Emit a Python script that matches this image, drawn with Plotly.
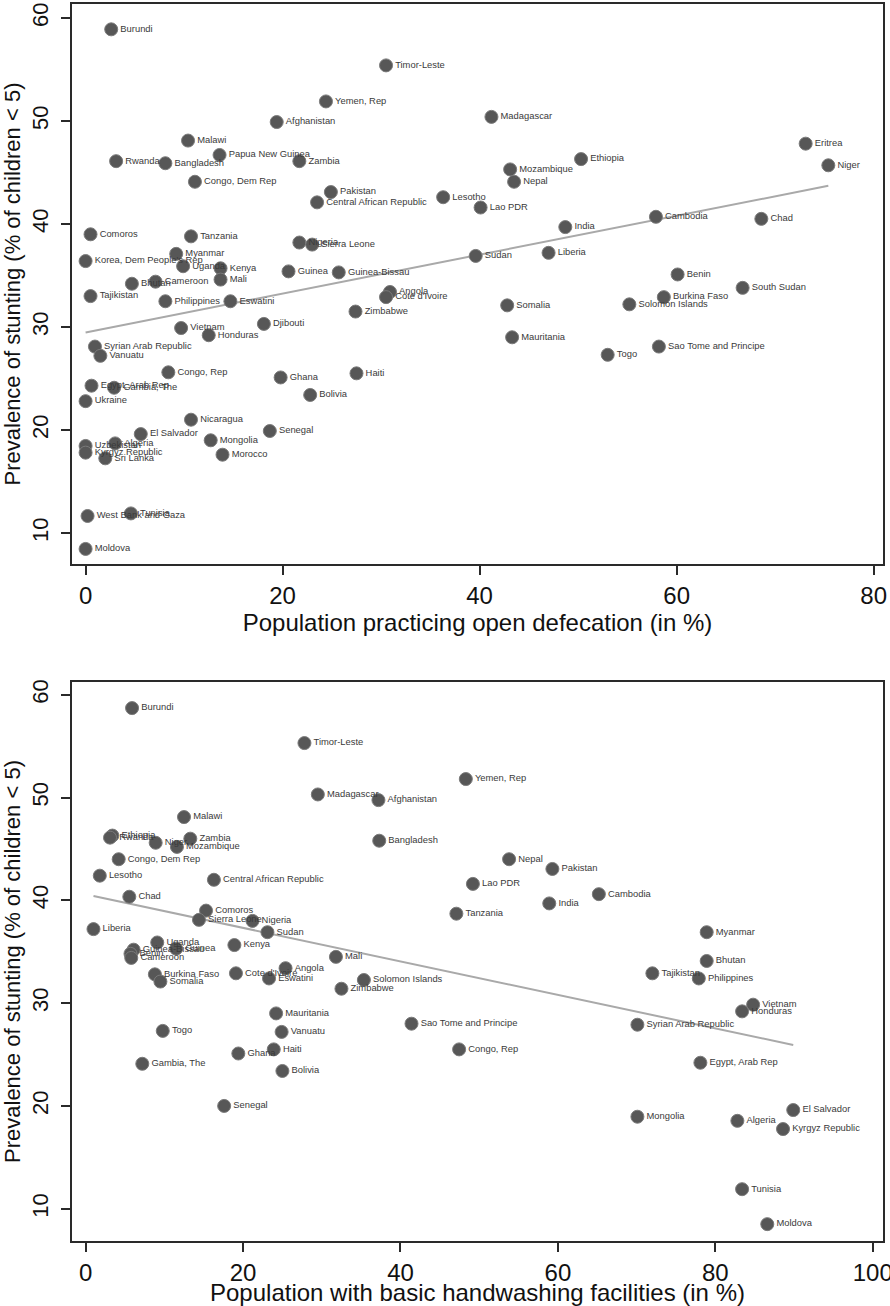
import numpy as np
import plotly.graph_objects as go

# ---- Top panel: open defecation ----
od_country = ["Burundi", "Timor-Leste", "Yemen, Rep", "Afghanistan", "Madagascar", "Malawi", "Eritrea",
              "Papua New Guinea", "Ethiopia", "Rwanda", "Bangladesh", "Zambia", "Niger", "Mozambique", "Nepal",
              "Congo, Dem Rep", "Pakistan", "Lesotho", "Central African Republic", "Lao PDR", "Cambodia", "Chad",
              "India", "Comoros", "Tanzania", "Nigeria", "Sierra Leone", "Liberia", "Myanmar", "Sudan",
              "Korea, Dem People's Rep", "Uganda", "Kenya", "Guinea", "Guinea-Bissau", "Benin", "Mali",
              "Cameroon", "Bhutan", "South Sudan", "Angola", "Tajikistan", "Cote d'Ivoire", "Burkina Faso",
              "Philippines", "Eswatini", "Solomon Islands", "Somalia", "Zimbabwe", "Djibouti", "Vietnam",
              "Honduras", "Mauritania", "Sao Tome and Principe", "Syrian Arab Republic", "Togo", "Vanuatu",
              "Congo, Rep", "Haiti", "Ghana", "Egypt, Arab Rep", "Gambia, The", "Bolivia", "Ukraine",
              "Nicaragua", "Senegal", "El Salvador", "Mongolia", "Algeria", "Uzbekistan", "Kyrgyz Republic",
              "Morocco", "Sri Lanka", "Tunisia", "West Bank and Gaza", "Moldova"]
od_x = [2.6, 30.5, 24.4, 19.4, 41.2, 10.4, 73.1,
        13.6, 50.3, 3.1, 8.1, 21.7, 75.4, 43.1, 43.5,
        11.1, 24.9, 36.3, 23.5, 40.1, 57.9, 68.6,
        48.7, 0.5, 10.7, 21.7, 23.0, 47.0, 9.2, 39.6,
        0.0, 9.9, 13.7, 20.6, 25.7, 60.1, 13.7,
        7.1, 4.7, 66.7, 30.9, 0.5, 30.5, 58.7,
        8.1, 14.7, 55.2, 42.8, 27.4, 18.1, 9.7,
        12.5, 43.3, 58.2, 0.95, 53.0, 1.5,
        8.4, 27.5, 19.8, 0.6, 2.9, 22.8, 0.0,
        10.7, 18.7, 5.6, 12.7, 3.0, 0.0, 0.0,
        13.9, 2.0, 4.6, 0.2, 0.0]
od_y = [58.9, 55.4, 51.9, 49.9, 50.4, 48.1, 47.8,
        46.7, 46.3, 46.1, 45.9, 46.1, 45.7, 45.3, 44.1,
        44.1, 43.1, 42.6, 42.1, 41.6, 40.7, 40.5,
        39.7, 39.0, 38.8, 38.2, 38.0, 37.2, 37.1, 36.9,
        36.4, 35.9, 35.7, 35.4, 35.3, 35.1, 34.6,
        34.4, 34.2, 33.8, 33.4, 33.0, 32.9, 32.9,
        32.5, 32.5, 32.2, 32.1, 31.5, 30.3, 29.9,
        29.2, 29.0, 28.1, 28.1, 27.3, 27.2,
        25.6, 25.5, 25.1, 24.3, 24.1, 23.4, 22.8,
        21.0, 19.9, 19.6, 19.0, 18.7, 18.45, 17.8,
        17.6, 17.25, 11.9, 11.65, 8.45]

# ---- Bottom panel: handwashing ----
hw_country = ["Burundi", "Timor-Leste", "Yemen, Rep", "Madagascar", "Afghanistan", "Malawi", "Ethiopia",
              "Rwanda", "Zambia", "Bangladesh", "Niger", "Mozambique", "Nepal", "Congo, Dem Rep", "Pakistan",
              "Lesotho", "Central African Republic", "Lao PDR", "Cambodia", "Chad", "India", "Comoros",
              "Tanzania", "Sierra Leone", "Nigeria", "Liberia", "Sudan", "Myanmar", "Uganda", "Kenya",
              "Guinea", "Guinea-Bissau", "Benin", "Cameroon", "Mali", "Bhutan", "Angola", "Tajikistan",
              "Cote d'Ivoire", "Burkina Faso", "Eswatini", "Philippines", "Solomon Islands", "Somalia",
              "Zimbabwe", "Vietnam", "Honduras", "Mauritania", "Sao Tome and Principe",
              "Syrian Arab Republic", "Togo", "Vanuatu", "Congo, Rep", "Haiti", "Ghana", "Egypt, Arab Rep",
              "Gambia, The", "Bolivia", "Senegal", "El Salvador", "Mongolia", "Algeria", "Kyrgyz Republic",
              "Tunisia", "Moldova"]
hw_x = [5.9, 27.8, 48.3, 29.5, 37.2, 12.5, 3.4,
        3.1, 13.3, 37.3, 8.9, 11.6, 53.8, 4.2, 59.3,
        1.8, 16.3, 49.2, 65.2, 5.55, 58.9, 15.3,
        47.1, 14.4, 21.2, 1.0, 23.1, 78.9, 9.1, 18.9,
        11.5, 6.1, 5.7, 5.8, 31.8, 78.9, 25.4, 72.0,
        19.1, 8.8, 23.3, 77.9, 35.35, 9.5,
        32.5, 84.8, 83.4, 24.2, 41.4,
        70.1, 9.8, 24.9, 47.45, 23.9, 19.4, 78.1,
        7.2, 25.0, 17.6, 89.9, 70.1, 82.8, 88.6,
        83.4, 86.6]
hw_y = [58.7, 55.3, 51.8, 50.3, 49.75, 48.1, 46.3,
        46.1, 46.0, 45.8, 45.6, 45.2, 44.0, 44.0, 43.05,
        42.4, 42.0, 41.6, 40.6, 40.35, 39.7, 39.0,
        38.7, 38.1, 38.0, 37.2, 36.9, 36.9, 35.9, 35.65,
        35.3, 35.2, 34.8, 34.4, 34.5, 34.1, 33.4, 32.9,
        32.9, 32.8, 32.4, 32.4, 32.25, 32.1,
        31.4, 29.85, 29.2, 29.0, 28.0,
        27.9, 27.3, 27.2, 25.5, 25.5, 25.1, 24.2,
        24.1, 23.4, 20.0, 19.6, 18.95, 18.55, 17.75,
        11.9, 8.5]

y_ticks = [10, 20, 30, 40, 50, 60]
od_ticks = [0, 20, 40, 60, 80]
hw_ticks = [0, 20, 40, 60, 80, 100]

FONT = "Liberation Sans"
DOT = "#575757"
LINE = "#a9a9a9"

fig = go.Figure()


def add_panel(xs, ys, names, xa, ya):
    xs = np.array(xs, dtype=float)
    ys = np.array(ys, dtype=float)
    b, a = np.polyfit(xs, ys, 1)
    lx = np.array([xs.min(), xs.max()])
    fig.add_trace(go.Scatter(x=lx, y=a + b * lx, mode="lines", xaxis=xa, yaxis=ya,
                             line=dict(color=LINE, width=2), showlegend=False, hoverinfo="skip"))
    fig.add_trace(go.Scatter(x=xs, y=ys, mode="markers+text", text=names, textposition="middle right",
                             textfont=dict(family=FONT, size=9.4, color="#3a3a3a"),
                             xaxis=xa, yaxis=ya, showlegend=False,
                             marker=dict(size=13, color=DOT, line=dict(color="#7a7a7a", width=1))))


add_panel(od_x, od_y, od_country, "x", "y")
add_panel(hw_x, hw_y, hw_country, "x2", "y2")

axis_common = dict(showline=True, mirror=True, linecolor="#2a2a2a", linewidth=2,
                   ticks="outside", ticklen=9, tickwidth=1.5, tickcolor="#2a2a2a",
                   showgrid=False, zeroline=False, automargin=False)
xtick_font = dict(family=FONT, size=24, color="#111")
ytick_font = dict(family=FONT, size=22, color="#111")
xtitle_font = dict(family=FONT, size=24, color="#111")
ytitle_font = dict(family=FONT, size=22, color="#111")

fig.update_layout(
    width=890, height=1306,
    margin=dict(l=72, r=7, t=4, b=65),
    paper_bgcolor="white", plot_bgcolor="white",
    xaxis=dict(axis_common, domain=[0, 1], anchor="y", range=[-1.38, 80.95], tickvals=od_ticks,
               tickfont=xtick_font, ticklabeloverflow="allow",
               title=dict(text="Population practicing open defecation (in %)", font=xtitle_font, standoff=0)),
    yaxis=dict(axis_common, domain=[0.5473, 1], anchor="x", range=[6.99, 61.36], tickvals=y_ticks,
               tickangle=-90, tickfont=ytick_font, ticklabelstandoff=4,
               title=dict(text="Prevalence of stunting (% of children < 5)", font=ytitle_font, standoff=2)),
    xaxis2=dict(axis_common, domain=[0, 1], anchor="y2", range=[-1.73, 101.3], tickvals=hw_ticks,
                tickfont=xtick_font, ticklabeloverflow="allow",
                title=dict(text="Population with basic handwashing facilities (in %)", font=xtitle_font,
                           standoff=0)),
    yaxis2=dict(axis_common, domain=[0, 0.4519], anchor="x2", range=[6.86, 61.24], tickvals=y_ticks,
                tickangle=-90, tickfont=ytick_font, ticklabelstandoff=4,
                title=dict(text="Prevalence of stunting (% of children < 5)", font=ytitle_font, standoff=2)),
)

fig.write_html("out.html", config={"displayModeBar": False},
               post_script="document.body.style.margin='0';")
